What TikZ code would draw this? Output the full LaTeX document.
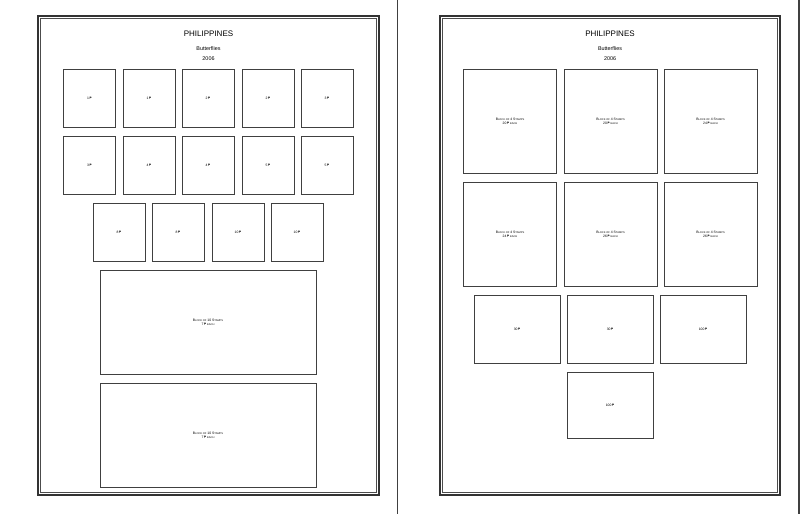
\documentclass[tikz,border=0pt]{standalone}
\usepackage{fontspec}
\setmainfont{Liberation Sans}
\newfontfamily\pesofont{DejaVu Sans}
\usepackage{tikz}
\usetikzlibrary{calc}

\newcommand{\peso}{{\pesofont ₱}}
\newcommand{\blk}[1]{B{\fontsize{2.6}{3}\selectfont LOCK OF} #1 S{\fontsize{2.6}{3}\selectfont TAMPS}}

\tikzset{
  stampbox/.style={draw=black!75, line width=0.7pt, inner sep=0pt, font=\fontsize{3.4}{4}\selectfont, align=center},
  pageframe/.style={draw=black!80, line width=1.5pt},
  innerframe/.style={draw=black!70, line width=0.6pt},
}

\begin{document}
\begin{tikzpicture}[x=1pt,y=-1pt]

\useasboundingbox (0,0) rectangle (800,514);

\coordinate (A) at (38,16);
\coordinate (B) at (379,495);
\coordinate (C) at (440,16);
\coordinate (D) at (780,495);

% page edges
\draw[black!75,line width=1.2pt] (397.5,0) -- (397.5,514);
\draw[black!75,line width=1.2pt] (799,0) -- (799,514);

% double frames
\draw[pageframe] (A) rectangle (B);
\draw[innerframe] ($(A)+(2.5,2.5)$) rectangle ($(B)-(2.5,2.5)$);
\draw[pageframe] (C) rectangle (D);
\draw[innerframe] ($(C)+(2.5,2.5)$) rectangle ($(D)-(2.5,2.5)$);

% titles
\node[font=\fontsize{8}{9}\selectfont] (ltitle) at (208.5,34) {PHILIPPINES};
\node[font=\fontsize{5.4}{6}\selectfont] (lsub) at (208.5,49) {Butterflies};
\node[font=\fontsize{5.4}{6}\selectfont] (lyear) at (208.5,59) {2006};
\node[font=\fontsize{8}{9}\selectfont] (rtitle) at (610,34) {PHILIPPINES};
\node[font=\fontsize{5.4}{6}\selectfont] (rsub) at (610,49) {Butterflies};
\node[font=\fontsize{5.4}{6}\selectfont] (ryear) at (610,59) {2006};

% left page
\foreach \x/\v [count=\i] in {89.5/1,149/1,208/2,268/2,327/3}
  \node[stampbox, minimum width=52, minimum height=58] (la\i) at (\x,98) {\v\,\peso};
\foreach \x/\v [count=\i] in {89.5/3,149/4,208/4,268/5,327/5}
  \node[stampbox, minimum width=52, minimum height=58] (lb\i) at (\x,165) {\v\,\peso};
\foreach \x/\v [count=\i] in {119/8,178/8,238/10,297/10}
  \node[stampbox, minimum width=52, minimum height=58] (lc\i) at (\x,232) {\v\,\peso};
\node[stampbox, minimum width=216, minimum height=104] (ld1) at (208,322) {\blk{10}\\7\,\peso\ {\fontsize{2.6}{3}\selectfont EACH}};
\node[stampbox, minimum width=216, minimum height=104] (ld2) at (208,435) {\blk{10}\\7\,\peso\ {\fontsize{2.6}{3}\selectfont EACH}};

% right page
\foreach \x/\v [count=\i] in {510/20,610.5/20,710.5/24}
  \node[stampbox, minimum width=93, minimum height=104] (ra\i) at (\x,121) {\blk{4}\\\v\,\peso\ {\fontsize{2.6}{3}\selectfont EACH}};
\foreach \x/\v [count=\i] in {510/24,610.5/26,710.5/26}
  \node[stampbox, minimum width=93, minimum height=104] (rb\i) at (\x,234) {\blk{4}\\\v\,\peso\ {\fontsize{2.6}{3}\selectfont EACH}};
\foreach \x/\v [count=\i] in {517/30,610/30,703/100}
  \node[stampbox, minimum width=86, minimum height=68] (rc\i) at (\x,329) {\v\,\peso};
\node[stampbox, minimum width=86, minimum height=66] (rd1) at (610,405) {100\,\peso};

\end{tikzpicture}
\end{document}
